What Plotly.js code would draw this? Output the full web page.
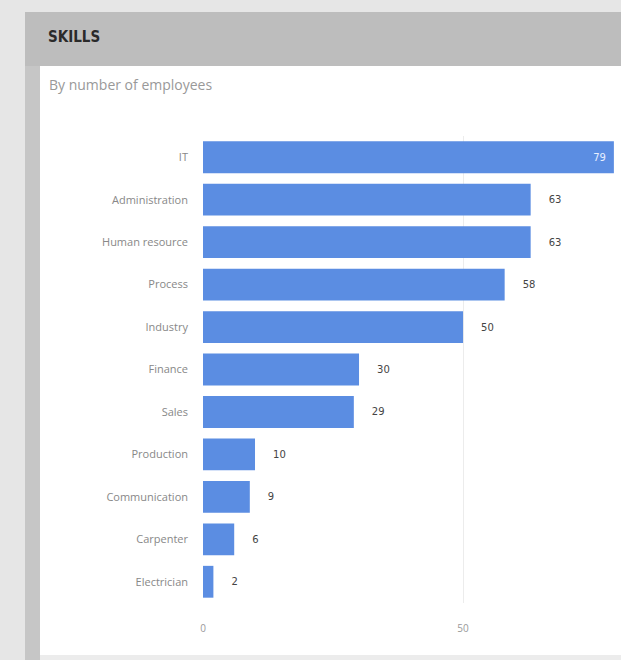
<!DOCTYPE html>
<html>
<head>
<meta charset="utf-8">
<script src="https://cdn.plot.ly/plotly-3.0.1.min.js"></script>
<style>
html,body{margin:0;padding:0;background:#e6e6e6;}
#chart{width:621px;height:660px;}
</style>
</head>
<body>
<div id="chart"></div>
<script>
const categories = ["IT","Administration","Human resource","Process","Industry","Finance","Sales","Production","Communication","Carpenter","Electrician"];
const employees = [79,63,63,58,50,30,29,10,9,6,2];
const xTickValues = [0,50];

const W = 621, H = 660;
const M = {l:203, r:4, t:136, b:57};
const pw = W - M.l - M.r, ph = H - M.t - M.b;
const px = x => (x - M.l) / pw;
const py = y => (H - M.b - y) / ph;

function rect(x0,y0,x1,y1,color){
  return {type:'rect', xref:'paper', yref:'paper', layer:'below',
    x0:px(x0), x1:px(x1), y0:py(y1), y1:py(y0),
    fillcolor:color, line:{width:0}};
}

const maxVal = Math.max(...employees);
const positions = employees.map(v => v === maxVal ? 'inside' : 'outside');
const labels = employees.map(v => v === maxVal ? String(v) + '\u2002' : '\u2003\u2002' + String(v));

const data = [{
  type:'bar',
  orientation:'h',
  y: categories,
  x: employees,
  marker:{color:'#5b8de2'},
  text: labels,
  textposition: positions,
  insidetextanchor:'end',
  insidetextfont:{family:'DejaVu Sans, sans-serif', size:10, color:'#e8efff'},
  outsidetextfont:{family:'DejaVu Sans, sans-serif', size:10, color:'#444'},
  cliponaxis:false,
  hoverinfo:'none'
}];

const layout = {
  width:W, height:H,
  margin:M,
  paper_bgcolor:'#e6e6e6',
  plot_bgcolor:'rgba(0,0,0,0)',
  bargap:0.25,
  showlegend:false,
  font:{family:'Open Sans, sans-serif', color:'#888'},
  xaxis:{
    range:[0,79.6],
    tickvals:xTickValues,
    ticktext:xTickValues.map(String),
    showgrid:true, gridcolor:'#ececec', gridwidth:1,
    zeroline:false, showline:false,
    tickfont:{size:10, color:'#999'},
    ticklabelstandoff:18,
    fixedrange:true
  },
  yaxis:{
    type:'category',
    autorange:'reversed',
    showgrid:false, zeroline:false, showline:false,
    tickfont:{size:11, color:'#888'},
    ticklabelstandoff:14,
    fixedrange:true
  },
  shapes:[
    rect(25,12,621,66,'#bdbdbd'),
    rect(25,66,40,660,'#c6c6c6'),
    rect(40,66,621,655,'#ffffff'),
    rect(40,655,621,660,'#ececec')
  ],
  annotations:[
    {xref:'paper', yref:'paper', x:px(46), y:py(37), xanchor:'left', yanchor:'middle',
     text:'<b>SKILLS</b>', showarrow:false,
     font:{family:'DejaVu Sans Condensed, DejaVu Sans, sans-serif', size:15, color:'#2a2a2a'}},
    {xref:'paper', yref:'paper', x:px(47), y:py(84), xanchor:'left', yanchor:'middle',
     text:'By number of employees', showarrow:false,
     font:{family:'Open Sans, sans-serif', size:14, color:'#999'}}
  ]
};

Plotly.newPlot('chart', data, layout, {displayModeBar:false, staticPlot:true});
</script>
</body>
</html>
